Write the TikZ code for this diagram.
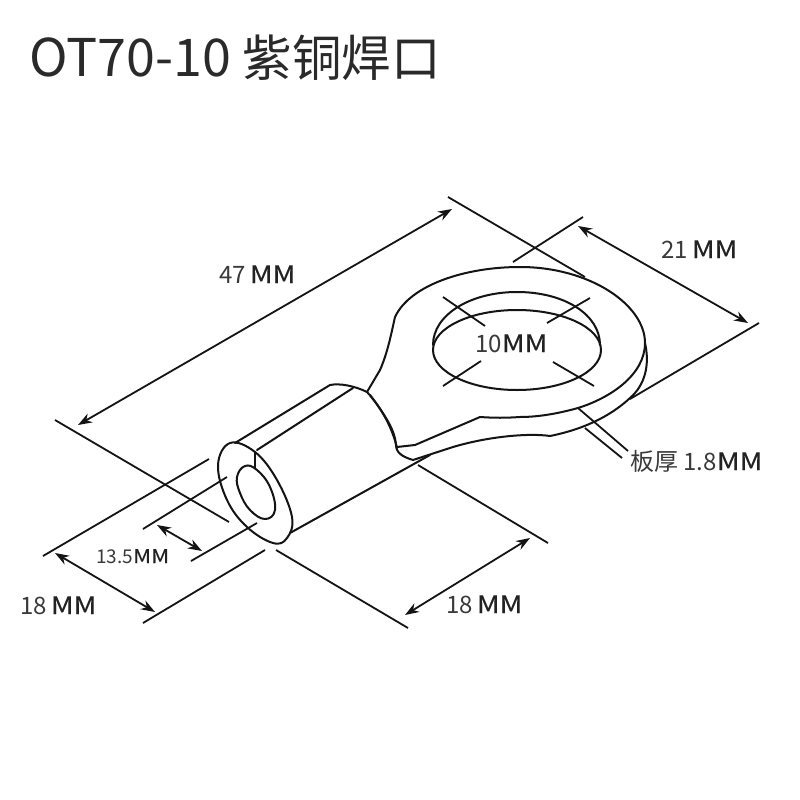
\documentclass[tikz,border=0pt]{standalone}
\usepackage{fontspec}
\setmainfont{Noto Sans CJK SC}
\newfontfamily\mmfont[FakeBold=0.3,FakeStretch=1.17]{Noto Sans CJK SC}
\usetikzlibrary{arrows.meta}
\definecolor{ink}{HTML}{141414}
\definecolor{txt}{HTML}{2A2A2A}
\definecolor{numtxt}{HTML}{3A3A3A}
\definecolor{mmtxt}{HTML}{222222}
\newcommand{\mm}{{\mmfont\color{mmtxt}\fontsize{24}{24}\selectfont MM}}
\newcommand{\smm}{{\mmfont\color{mmtxt}\fontsize{19}{19}\selectfont MM}}
\tikzset{
  art/.style={draw=ink,line width=2pt,line cap=round,line join=round},
  dimline/.style={draw=ink,line width=1.8pt,line cap=butt},
  dimarrow/.style={draw=ink,line width=1.8pt,{Stealth[length=14pt,width=10pt]}-{Stealth[length=14pt,width=10pt]}},
  lab/.style={text=numtxt,inner sep=0pt,anchor=base west,font=\fontsize{24}{24}\selectfont},
  smalllab/.style={lab,font=\fontsize{19}{19}\selectfont},
  titlelab/.style={text=txt,inner sep=0pt,anchor=base west}
}
\begin{document}
\begin{tikzpicture}[x=1pt,y=-1pt]
\useasboundingbox (0,0) rectangle (800,800);
\fill[white] (0,0) rectangle (800,800);
% title
\node[titlelab] (title) at (29,76) {\fontsize{52}{52}\selectfont OT70-10 {\fontsize{49.5}{50}\selectfont 紫铜焊口}};
% lug top face
\draw[art] (380,370) .. controls (388,352) and (392,330) .. (395,317)
  .. controls (410,285) and (465,267) .. (520,267)
  .. controls (590,267) and (645,305) .. (645,343)
  .. controls (645,375) and (610,398) .. (578,408)
  .. controls (560,413) and (540,417) .. (520,417)
  .. controls (505,418) and (495,418) .. (480,417)
  -- (415,445) -- (397,447);
% lug lower edge
\draw[art] (645,343) .. controls (650,365) and (645,385) .. (630,398)
  .. controls (615,412) and (590,428) .. (550,436)
  .. controls (530,433) and (490,436) .. (453,447)
  -- (413,460)
  .. controls (403,457) and (396,453) .. (396,445)
  .. controls (395,430) and (385,415) .. (370,395);
% hole
\draw[art] (517,350) ellipse [x radius=84,y radius=40];
\draw[art] (433,345) .. controls (433,315) and (470,292) .. (517,292)
  .. controls (565,292) and (600,315) .. (600,345);
% barrel
\draw[art] (235,443) -- (330,385);
\draw[art] (257,450) -- (353,388);
\draw[art] (290,533) -- (430,455);
\draw[art] (330,385) .. controls (340,383) and (355,386) .. (367,392)
  .. controls (382,408) and (393,430) .. (397,448);
\draw[art] (367,392) -- (380,370);
\draw[art] plot[smooth cycle,tension=.65] coordinates {(218,465) (230,443) (255,452) (277,480) (292,517) (287,538) (273,543) (247,527) (227,500)};
\draw[art] plot[smooth cycle,tension=.7] coordinates {(237,477) (245,466) (257,470) (270,487) (275,510) (265,519) (250,510) (240,493)};
\draw[art] (255,452) -- (255,468);
% dimension lines
\coordinate (a47a) at (78,425); \coordinate (a47b) at (452,209);
\coordinate (a21a) at (578,226); \coordinate (a21b) at (748,323);
\coordinate (a13a) at (157,525); \coordinate (a13b) at (202,551);
\coordinate (a18a) at (55,553); \coordinate (a18b) at (155,612);
\coordinate (a18c) at (405,615); \coordinate (a18d) at (530,538);
\draw[dimarrow] (a47a) -- (a47b);
\draw[dimarrow] (a21a) -- (a21b);
\draw[dimarrow] (a13a) -- (a13b);
\draw[dimarrow] (a18a) -- (a18b);
\draw[dimarrow] (a18c) -- (a18d);
\draw[dimline] (448,197) -- (585,277);
\draw[dimline] (55,420) -- (229,522);
\draw[dimline] (513,262) -- (583,217);
\draw[dimline] (759,323) -- (630,399);
\draw[dimline] (443,297) -- (485,326);
\draw[dimline] (590,298) -- (547,323);
\draw[dimline] (443,386) -- (481,361);
\draw[dimline] (594,386) -- (553,362);
\draw[dimline] (578,408) -- (628,451);
\draw[dimline] (585,428) -- (622,458);
\draw[dimline] (43,556) -- (209,459);
\draw[dimline] (143,529) -- (227,477);
\draw[dimline] (191,561) -- (257,523);
\draw[dimline] (143,623) -- (265,550);
\draw[dimline] (276,550) -- (408,628);
\draw[dimline] (418,465) -- (548,543);
% labels
\node[lab] (l47) at (219,283) {47\,\mm};
\node[lab] (l21) at (661,258) {21\,\mm};
\node[lab] (l10) at (475,352) {10\mm};
\node[lab] (lban) at (630,470) {板厚 1.8\mm};
\node[smalllab] (l135) at (96,563) {13.5\smm};
\node[lab] (l18a) at (20,614) {18\,\mm};
\node[lab] (l18b) at (446,613) {18\,\mm};
\end{tikzpicture}
\end{document}
